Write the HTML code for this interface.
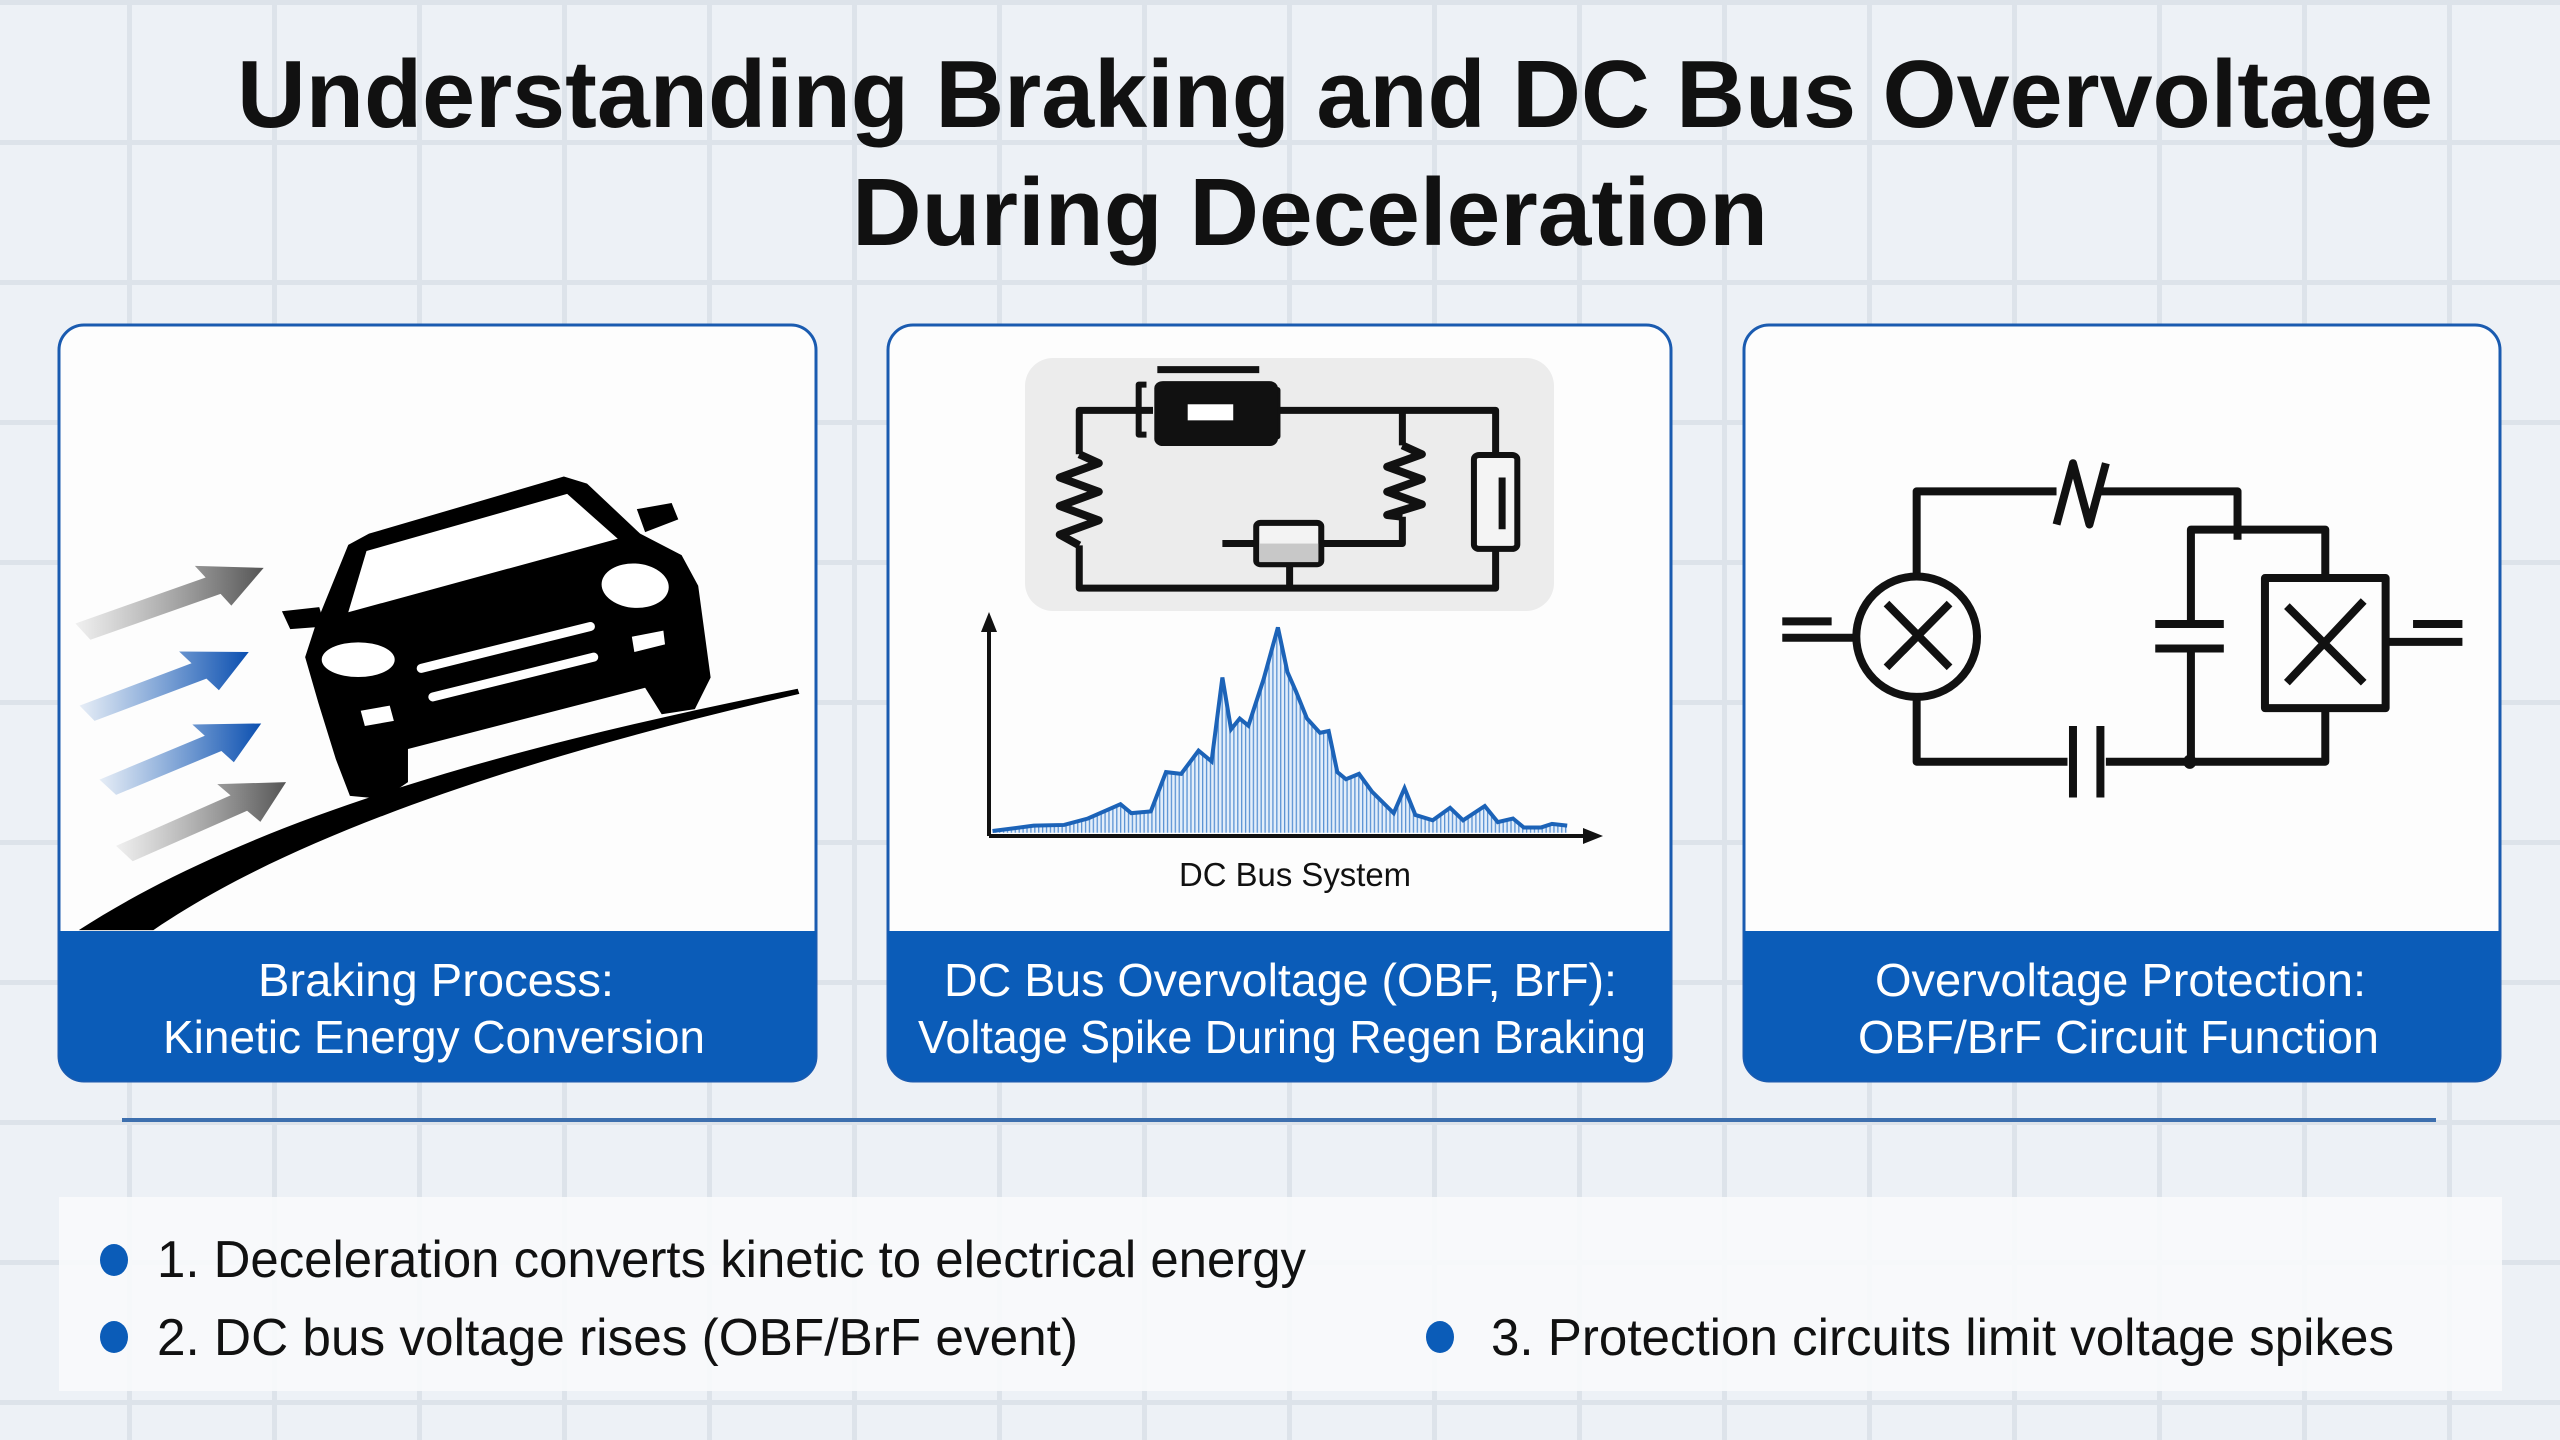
<!DOCTYPE html>
<html><head><meta charset="utf-8"><style>
html,body{margin:0;padding:0;width:2560px;height:1440px;overflow:hidden;background:#edf1f6;}
svg{display:block;font-family:"Liberation Sans",sans-serif;}
</style></head><body>
<svg width="2560" height="1440" viewBox="0 0 2560 1440" xmlns="http://www.w3.org/2000/svg">
<defs>
<pattern id="grid" x="127" y="0" width="145" height="140" patternUnits="userSpaceOnUse">
<rect x="0" y="0" width="5" height="140" fill="#dde3ea"/>
<rect x="0" y="0" width="145" height="5" fill="#dde3ea"/>
</pattern>
<linearGradient id="gg" x1="0" y1="0" x2="1" y2="0"><stop offset="0" stop-color="#777" stop-opacity="0.1"/><stop offset="1" stop-color="#555"/></linearGradient>
<linearGradient id="bg2" x1="0" y1="0" x2="1" y2="0"><stop offset="0" stop-color="#1a5fb8" stop-opacity="0.1"/><stop offset="1" stop-color="#0b4fb0"/></linearGradient>
<pattern id="vl" x="0" y="0" width="9" height="10" patternUnits="userSpaceOnUse"><rect width="9" height="10" fill="#e3eefa"/><rect width="3" height="10" fill="#5b93d4"/></pattern>
</defs>
<rect width="2560" height="1440" fill="#edf1f6"/>
<rect width="2560" height="1440" fill="url(#grid)"/>

<!-- Title -->
<text x="237" y="127" font-size="96" font-weight="bold" fill="#111" textLength="2196" lengthAdjust="spacingAndGlyphs">Understanding Braking and DC Bus Overvoltage</text>
<text x="852" y="245" font-size="96" font-weight="bold" fill="#111" textLength="916" lengthAdjust="spacingAndGlyphs">During Deceleration</text>

<!-- Panels -->
<g>
<rect x="59" y="325" width="757" height="756" rx="25" fill="#fdfdfd" stroke="#1a5bb0" stroke-width="3"/>
<path d="M59,931 H816 V1056 a25,25 0 0 1 -25,25 H84 a25,25 0 0 1 -25,-25 Z" fill="#0b5cb8"/>
<rect x="888" y="325" width="783" height="756" rx="25" fill="#fdfdfd" stroke="#1a5bb0" stroke-width="3"/>
<path d="M888,931 H1671 V1056 a25,25 0 0 1 -25,25 H913 a25,25 0 0 1 -25,-25 Z" fill="#0b5cb8"/>
<rect x="1744" y="325" width="756" height="756" rx="25" fill="#fdfdfd" stroke="#1a5bb0" stroke-width="3"/>
<path d="M1744,931 H2500 V1056 a25,25 0 0 1 -25,25 H1769 a25,25 0 0 1 -25,-25 Z" fill="#0b5cb8"/>
</g>

<!-- Captions -->
<g fill="#fff" font-size="46">
<text x="258" y="996" textLength="356" lengthAdjust="spacingAndGlyphs">Braking Process:</text>
<text x="163" y="1053" textLength="542" lengthAdjust="spacingAndGlyphs">Kinetic Energy Conversion</text>
<text x="944" y="996" textLength="673" lengthAdjust="spacingAndGlyphs">DC Bus Overvoltage (OBF, BrF):</text>
<text x="918" y="1053" textLength="728" lengthAdjust="spacingAndGlyphs">Voltage Spike During Regen Braking</text>
<text x="1875" y="996" textLength="491" lengthAdjust="spacingAndGlyphs">Overvoltage Protection:</text>
<text x="1858" y="1053" textLength="521" lengthAdjust="spacingAndGlyphs">OBF/BrF Circuit Function</text>
</g>

<!-- Panel 1: car -->
<g transform="translate(0,300) scale(0.8292,0.5102)">
<polygon points="91,634 248,544 235,521 318,525 279,599 266,576 109,666" fill="url(#gg)"/>
<polygon points="96,795 231,712 216,689 300,690 264,765 249,742 114,825" fill="url(#bg2)"/>
<polygon points="120,940 247,854 232,832 315,830 282,906 267,884 140,970" fill="url(#bg2)"/>
<polygon points="140,1070 278,971 262,949 345,945 314,1023 298,1001 160,1100" fill="url(#gg)"/>
<path d="M95,1235 C300,1020 600,880 962,762 L964,772 C650,890 360,1040 185,1235 Z" fill="#000"/>
<path d="M380,640 L420,480 L445,458 L680,346 L708,360 L772,458 L822,500 L842,560 L857,740 L838,802 L798,812 L778,760 L492,880 L492,945 L462,978 L422,972 L405,900 L384,790 L368,700 Z" fill="#000"/>
<path d="M340,610 L385,602 L392,640 L350,645 Z" fill="#000"/>
<path d="M768,410 L810,398 L818,430 L778,455 Z" fill="#000"/>
<path d="M442,492 L684,380 L745,468 L420,612 Z" fill="#fff"/>
<ellipse cx="432" cy="705" rx="44" ry="34" fill="#fff"/>
<ellipse cx="766" cy="560" rx="40" ry="44" transform="rotate(-20 766 560)" fill="#fff"/>
<line x1="508" y1="722" x2="712" y2="640" stroke="#fff" stroke-width="18" stroke-linecap="round" vector-effect="non-scaling-stroke" style="stroke-width:9"/>
<line x1="522" y1="778" x2="716" y2="700" stroke="#fff" stroke-width="18" stroke-linecap="round" style="stroke-width:9" vector-effect="non-scaling-stroke"/>
<path d="M435,805 L470,795 L475,825 L440,835 Z" fill="#fff"/>
<path d="M762,660 L800,648 L802,675 L765,690 Z" fill="#fff"/>
</g>

<!-- Panel 2 -->
<rect x="1025" y="358" width="529" height="253" rx="28" fill="#ececec"/>
<g transform="translate(960,340) scale(0.4337,0.3571)" fill="none" stroke="#111" stroke-linejoin="round">
<g stroke-width="7" vector-effect="non-scaling-stroke">
<path d="M445,197 H275 V320 M275,575 V695 H1235 V585 M1235,320 V197 H735 M1020,197 V295 M1020,495 V570 H835 M680,570 H605 M760,630 V695" vector-effect="non-scaling-stroke" stroke-width="7"/>
<path d="M275,320 L320,345 L230,385 L320,425 L230,465 L320,505 L230,545 L275,575" vector-effect="non-scaling-stroke" stroke-width="8"/>
<path d="M1020,295 L1065,320 L985,355 L1065,390 L985,425 L1065,460 L985,490 L1020,495" vector-effect="non-scaling-stroke" stroke-width="8"/>
<path d="M455,83 H690" vector-effect="non-scaling-stroke" stroke-width="7"/>
<path d="M430,125 H412 V265 H430 M712,140 H732 V270 H712" vector-effect="non-scaling-stroke" stroke-width="6"/>
</g>
<rect x="448" y="115" width="285" height="182" rx="20" fill="#111" stroke="none"/>
<rect x="525" y="180" width="105" height="45" fill="#fff" stroke="none"/>
<rect x="683" y="512" width="150" height="116" rx="10" fill="#f3f3f3" stroke-width="6" vector-effect="non-scaling-stroke"/>
<rect x="690" y="570" width="136" height="52" fill="#c8c8c8" stroke="none"/>
<rect x="1185" y="322" width="100" height="263" rx="12" fill="#f4f4f4" stroke-width="6" vector-effect="non-scaling-stroke"/>
<path d="M1250,385 V530" stroke-width="7" vector-effect="non-scaling-stroke"/>
</g>
<!-- graph -->
<g transform="translate(960,340) scale(0.4337,0.3571)">
<path d="M75,1380 L75,1375 L170,1360 L240,1358 L295,1340 L370,1300 L395,1325 L440,1320 L475,1210 L510,1215 L550,1150 L580,1180 L605,945 L625,1090 L645,1060 L665,1080 L700,950 L733,805 L755,930 L775,985 L800,1060 L830,1100 L850,1095 L870,1210 L890,1230 L920,1215 L950,1265 L1000,1325 L1025,1255 L1050,1330 L1090,1345 L1130,1310 L1160,1345 L1210,1305 L1240,1350 L1275,1340 L1300,1365 L1340,1365 L1365,1355 L1400,1360 L1400,1380 Z" fill="url(#vl)" stroke="none"/>
<path d="M75,1375 L170,1360 L240,1358 L295,1340 L370,1300 L395,1325 L440,1320 L475,1210 L510,1215 L550,1150 L580,1180 L605,945 L625,1090 L645,1060 L665,1080 L700,950 L733,805 L755,930 L775,985 L800,1060 L830,1100 L850,1095 L870,1210 L890,1230 L920,1215 L950,1265 L1000,1325 L1025,1255 L1050,1330 L1090,1345 L1130,1310 L1160,1345 L1210,1305 L1240,1350 L1275,1340 L1300,1365 L1340,1365 L1365,1355 L1400,1360" fill="none" stroke="#1c63b8" stroke-width="4" vector-effect="non-scaling-stroke"/>
</g>
<path d="M989,836 V625 M989,836 H1588" stroke="#111" stroke-width="4" fill="none"/>
<polygon points="989,612 981,632 997,632" fill="#111"/>
<polygon points="1603,836 1583,828 1583,844" fill="#111"/>
<text x="1179" y="886" font-size="33" fill="#111" textLength="232" lengthAdjust="spacingAndGlyphs">DC Bus System</text>

<!-- Panel 3 circuit -->
<g transform="translate(1700,300) scale(0.5485,0.5102)" fill="none" stroke="#111" stroke-linejoin="round">
<g vector-effect="non-scaling-stroke">
<path d="M395,545 V375 H650 M730,375 H980 V470" stroke-width="8" vector-effect="non-scaling-stroke"/>
<path d="M650,440 L680,320 L710,440 L740,320" stroke-width="8" vector-effect="non-scaling-stroke"/>
<path d="M895,635 V450 H1140 V545 M1140,800 V905 H740 M670,905 H395 V775 M895,685 V905" stroke-width="8" vector-effect="non-scaling-stroke"/>
<path d="M680,835 V975 M730,835 V975" stroke-width="8" vector-effect="non-scaling-stroke"/>
<path d="M830,635 H955 M830,683 H955" stroke-width="8" vector-effect="non-scaling-stroke"/>
<path d="M150,630 H240 M150,662 H280" stroke-width="8" vector-effect="non-scaling-stroke"/>
<path d="M1255,670 H1390 M1300,635 H1390" stroke-width="8" vector-effect="non-scaling-stroke"/>
<path d="M1030,545 H1250 V800 H1030 Z" stroke-width="8" vector-effect="non-scaling-stroke"/>
<path d="M1070,600 L1210,750 M1070,750 L1210,590" stroke-width="8" vector-effect="non-scaling-stroke"/>
<path d="M340,595 L455,720 M340,720 L455,595" stroke-width="8" vector-effect="non-scaling-stroke"/>
</g>
<ellipse cx="395" cy="660" rx="110" ry="118" stroke-width="8" vector-effect="non-scaling-stroke"/>
<ellipse cx="893" cy="905" rx="12" ry="14" fill="#111" stroke="none"/>
</g>

<!-- separator -->
<rect x="122" y="1118" width="2314" height="4" fill="#3d6fae"/>

<!-- bottom box -->
<rect x="59" y="1197" width="2443" height="194" fill="#f8fafc" opacity="0.9"/>
<g fill="#0b5cb8">
<ellipse cx="114" cy="1260" rx="14" ry="16"/>
<ellipse cx="114" cy="1337" rx="14" ry="16"/>
<ellipse cx="1440" cy="1337" rx="14" ry="16"/>
</g>
<g font-size="52" fill="#111">
<text x="157" y="1277" textLength="1149" lengthAdjust="spacingAndGlyphs">1. Deceleration converts kinetic to electrical energy</text>
<text x="157" y="1355" textLength="921" lengthAdjust="spacingAndGlyphs">2. DC bus voltage rises (OBF/BrF event)</text>
<text x="1491" y="1355" textLength="903" lengthAdjust="spacingAndGlyphs">3. Protection circuits limit voltage spikes</text>
</g>
</svg>
</body></html>
